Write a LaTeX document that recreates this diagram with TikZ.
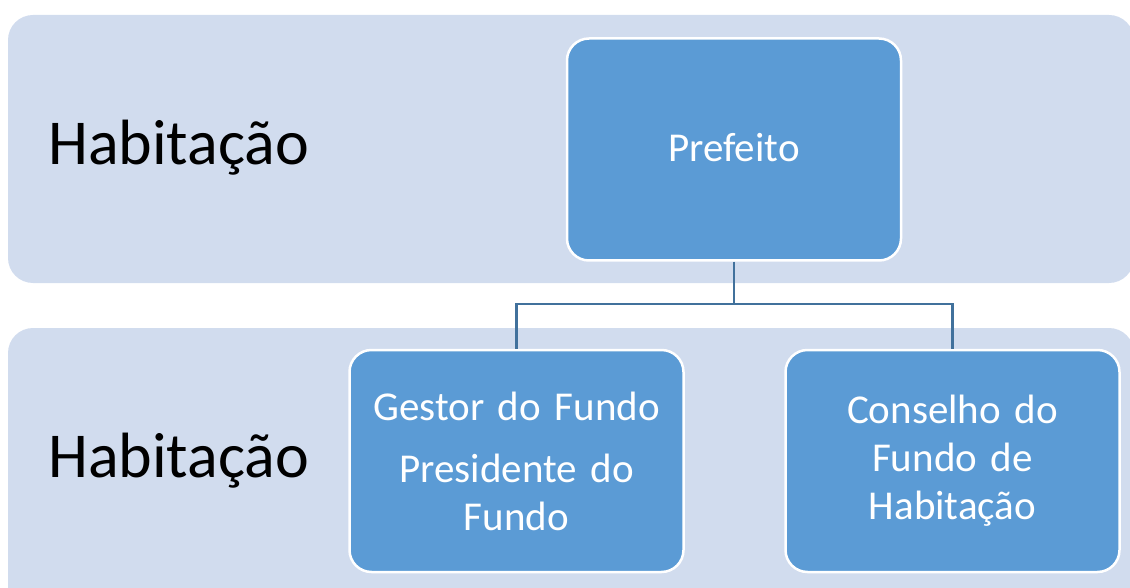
\documentclass[tikz,border=0pt]{standalone}
\usepackage{fontspec}
\setmainfont{Carlito}
\definecolor{band}{HTML}{D1DCEE}
\definecolor{boxfill}{HTML}{5B9BD5}
\definecolor{conn}{HTML}{41719C}
\begin{document}
\begin{tikzpicture}[x=1pt,y=-1pt,
  bandbox/.style={fill=band,draw=none,rounded corners=25pt},
  orgbox/.style={fill=boxfill,draw=white,line width=2.5pt,rounded corners=22pt,
     minimum width=334pt,minimum height=222pt,text=white,font=\fontsize{41}{48}\selectfont,align=center,text width=320pt},
  bandlabel/.style={anchor=west,font=\fontsize{64}{72}\selectfont,text=black,inner sep=0pt},
  link/.style={draw=conn,line width=2.8pt}]
\useasboundingbox (0,0) rectangle (1130,588);
\path[bandbox] (8,15) rectangle (1134,283);
\path[bandbox] (8,328) rectangle (1134,620);
\node[bandlabel] (l1) at (48,148) {Habitação};
\node[bandlabel] (l2) at (48,461) {Habitação};
\node[orgbox] (pref) at (734,149.5) {\raisebox{5pt}{Prefeito}};
\node[orgbox] (gest) at (516.5,461) {\raisebox{3pt}{\parbox{320pt}{\centering Gestor do Fundo\\[14pt]Presidente do\\Fundo}}};
\node[orgbox] (cons) at (952.5,461) {\raisebox{3pt}{\parbox{320pt}{\centering Conselho do\\Fundo de\\Habitação}}};
\coordinate (mid) at (734,304);
\draw[link] (pref.south) -- (mid) -| (gest.north);
\draw[link] (mid) -| (cons.north);
\end{tikzpicture}
\end{document}
